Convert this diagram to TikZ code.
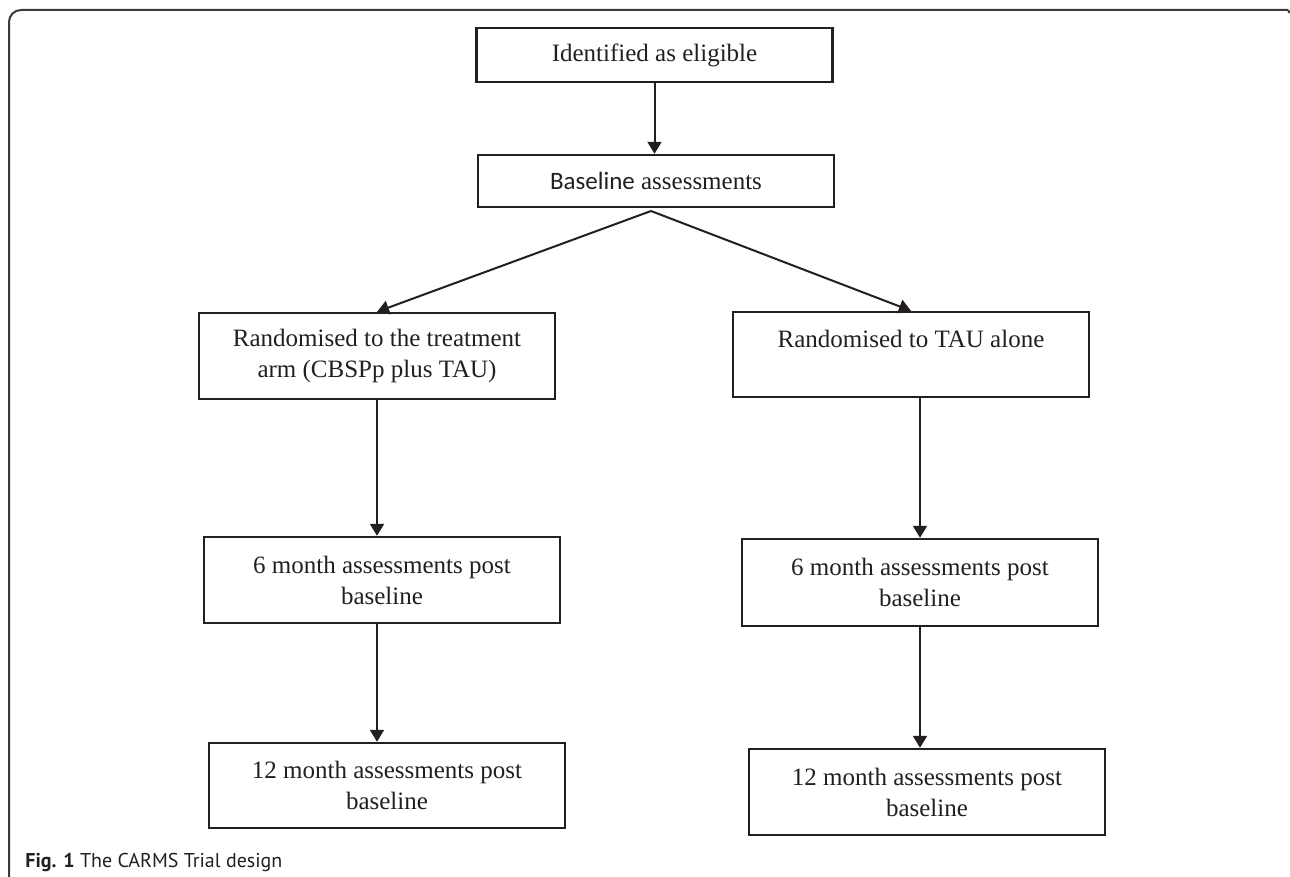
\documentclass[tikz,border=0pt]{standalone}
\usepackage{fontspec}
\setmainfont{Liberation Serif}
\newfontfamily\capfont{PT Sans}
\newfontfamily\calfont{Carlito}
\usetikzlibrary{arrows.meta}
\definecolor{ink}{HTML}{231F20}
\definecolor{rim}{HTML}{3A3A3A}
\tikzset{
    box/.style={
        draw=ink,
        line width=1.2pt,
        minimum width=178pt,
        align=center,
        text=ink,
        font=\fontsize{12.5}{15.5}\selectfont},
    every edge/.style={
        draw=ink,
        -{Triangle[length=6pt,width=7pt]},
        line width=1pt}}

\begin{document}
\begin{tikzpicture}[x=0.5pt,y=-0.5pt]
    \useasboundingbox (0,0) rectangle (1290,877);
    \draw[rim,line width=1pt,rounded corners=6pt] (9,877) |- (1288,10);
    \draw[rim,line width=1pt] (1288,10) -- (1289.5,13);

    \node[box,minimum height=27pt] (elig) at (654.5,55) {Identified as eligible};
    \node[box,minimum height=26pt] (base) at (656,181) {{\calfont Baseline} assessments};
    \coordinate (split) at (651,211);

    \node[box,minimum height=43pt] (treat) at (377,356) {Randomised to the treatment\\arm (CBSPp plus TAU)};
    \node[box,minimum height=42.5pt] (tau) at (911,354.5) {Randomised to TAU alone\\\mbox{}};

    \node[box,minimum height=43pt] (sixL) at (382,580) {6 month assessments post\\baseline};
    \node[box,minimum height=43.5pt] (sixR) at (920,582.5) {6 month assessments post\\baseline};

    \node[box,minimum height=42.5pt] (twelveL) at (387,785.5) {12 month assessments post\\baseline};
    \node[box,minimum height=43pt] (twelveR) at (927,792) {12 month assessments post\\baseline};

    \draw (elig.south) edge (elig.south |- base.north);
    \draw (split) edge (treat.north);
    \draw (split) edge (tau.north);

    \draw (treat.south) edge (treat.south |- sixL.north);
    \draw (treat.south |- sixL.south) edge (treat.south |- twelveL.north);

    \draw (tau.south -| sixR.north) edge (sixR.north);
    \draw (sixR.south) edge (sixR.south |- twelveR.north);

    \node[anchor=base west,inner sep=0pt,text=ink,font=\capfont\fontsize{10}{12}\selectfont] (caption) at (25,867) {\textbf{Fig. 1} The CARMS Trial design};
\end{tikzpicture}
\end{document}
